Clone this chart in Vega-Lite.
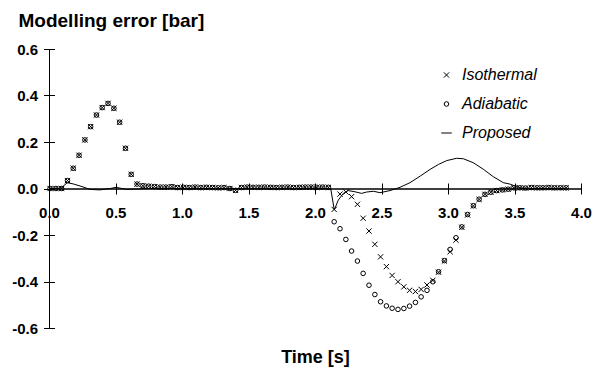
{
  "$schema": "https://vega.github.io/schema/vega-lite/v6.json",
  "width": 532,
  "height": 279,
  "autosize": {"type": "none"},
  "padding": {"left": 49, "top": 49, "right": 16, "bottom": 39},
  "background": "white",
  "config": {
    "view": {"stroke": null},
    "font": "Liberation Sans",
    "axis": {
      "grid": false,
      "domainColor": "black",
      "tickColor": "black",
      "labelColor": "black",
      "titleColor": "black",
      "labelFont": "Liberation Sans",
      "labelFontWeight": "bold",
      "labelFontSize": 15,
      "titleFont": "Liberation Sans",
      "titleFontWeight": "bold",
      "titleFontSize": 18,
      "tickSize": 5.5,
      "domainWidth": 1,
      "tickWidth": 1,
      "labelFlush": false,
      "labelOverlap": false
    }
  },
  "datasets": {
    "pts": [
      {"t": 0.008, "Isothermal": 0, "Adiabatic": 0},
      {"t": 0.052, "Isothermal": 0, "Adiabatic": 0},
      {"t": 0.095, "Isothermal": 0, "Adiabatic": 0},
      {"t": 0.139, "Isothermal": 0.034, "Adiabatic": 0.034},
      {"t": 0.182, "Isothermal": 0.087, "Adiabatic": 0.087},
      {"t": 0.226, "Isothermal": 0.143, "Adiabatic": 0.143},
      {"t": 0.270, "Isothermal": 0.209, "Adiabatic": 0.209},
      {"t": 0.313, "Isothermal": 0.266, "Adiabatic": 0.266},
      {"t": 0.357, "Isothermal": 0.316, "Adiabatic": 0.316},
      {"t": 0.400, "Isothermal": 0.348, "Adiabatic": 0.348},
      {"t": 0.444, "Isothermal": 0.366, "Adiabatic": 0.366},
      {"t": 0.488, "Isothermal": 0.345, "Adiabatic": 0.345},
      {"t": 0.531, "Isothermal": 0.285, "Adiabatic": 0.285},
      {"t": 0.575, "Isothermal": 0.173, "Adiabatic": 0.173},
      {"t": 0.618, "Isothermal": 0.061, "Adiabatic": 0.061},
      {"t": 0.662, "Isothermal": 0.019, "Adiabatic": 0.019},
      {"t": 0.706, "Isothermal": 0.012, "Adiabatic": 0.012},
      {"t": 0.749, "Isothermal": 0.010, "Adiabatic": 0.010},
      {"t": 0.793, "Isothermal": 0.008, "Adiabatic": 0.008},
      {"t": 0.836, "Isothermal": 0.006, "Adiabatic": 0.006},
      {"t": 0.880, "Isothermal": 0.006, "Adiabatic": 0.006},
      {"t": 0.924, "Isothermal": 0.008, "Adiabatic": 0.008},
      {"t": 0.967, "Isothermal": 0.004, "Adiabatic": 0.004},
      {"t": 1.011, "Isothermal": 0.005, "Adiabatic": 0.005},
      {"t": 1.054, "Isothermal": 0.004, "Adiabatic": 0.004},
      {"t": 1.098, "Isothermal": 0.006, "Adiabatic": 0.006},
      {"t": 1.142, "Isothermal": 0.004, "Adiabatic": 0.004},
      {"t": 1.185, "Isothermal": 0.005, "Adiabatic": 0.005},
      {"t": 1.229, "Isothermal": 0.004, "Adiabatic": 0.004},
      {"t": 1.272, "Isothermal": 0.003, "Adiabatic": 0.003},
      {"t": 1.316, "Isothermal": 0.004, "Adiabatic": 0.004},
      {"t": 1.360, "Isothermal": 0.000, "Adiabatic": 0.000},
      {"t": 1.403, "Isothermal": -0.008, "Adiabatic": -0.008},
      {"t": 1.447, "Isothermal": 0.004, "Adiabatic": 0.004},
      {"t": 1.490, "Isothermal": 0.006, "Adiabatic": 0.006},
      {"t": 1.534, "Isothermal": 0.005, "Adiabatic": 0.005},
      {"t": 1.578, "Isothermal": 0.005, "Adiabatic": 0.005},
      {"t": 1.621, "Isothermal": 0.006, "Adiabatic": 0.006},
      {"t": 1.665, "Isothermal": 0.005, "Adiabatic": 0.005},
      {"t": 1.708, "Isothermal": 0.004, "Adiabatic": 0.004},
      {"t": 1.752, "Isothermal": 0.005, "Adiabatic": 0.005},
      {"t": 1.796, "Isothermal": 0.006, "Adiabatic": 0.006},
      {"t": 1.839, "Isothermal": 0.004, "Adiabatic": 0.004},
      {"t": 1.883, "Isothermal": 0.005, "Adiabatic": 0.005},
      {"t": 1.926, "Isothermal": 0.006, "Adiabatic": 0.006},
      {"t": 1.970, "Isothermal": 0.006, "Adiabatic": 0.006},
      {"t": 2.014, "Isothermal": 0.005, "Adiabatic": 0.005},
      {"t": 2.057, "Isothermal": 0.006, "Adiabatic": 0.006},
      {"t": 2.101, "Isothermal": 0.005, "Adiabatic": 0.005},
      {"t": 2.144, "Isothermal": -0.090, "Adiabatic": -0.143},
      {"t": 2.188, "Isothermal": -0.024, "Adiabatic": -0.173},
      {"t": 2.232, "Isothermal": -0.015, "Adiabatic": -0.219},
      {"t": 2.275, "Isothermal": -0.035, "Adiabatic": -0.269},
      {"t": 2.319, "Isothermal": -0.068, "Adiabatic": -0.312},
      {"t": 2.362, "Isothermal": -0.128, "Adiabatic": -0.365},
      {"t": 2.406, "Isothermal": -0.183, "Adiabatic": -0.416},
      {"t": 2.450, "Isothermal": -0.240, "Adiabatic": -0.456},
      {"t": 2.493, "Isothermal": -0.294, "Adiabatic": -0.487},
      {"t": 2.537, "Isothermal": -0.336, "Adiabatic": -0.505},
      {"t": 2.580, "Isothermal": -0.374, "Adiabatic": -0.515},
      {"t": 2.624, "Isothermal": -0.401, "Adiabatic": -0.520},
      {"t": 2.668, "Isothermal": -0.423, "Adiabatic": -0.516},
      {"t": 2.711, "Isothermal": -0.438, "Adiabatic": -0.506},
      {"t": 2.755, "Isothermal": -0.443, "Adiabatic": -0.490},
      {"t": 2.798, "Isothermal": -0.434, "Adiabatic": -0.466},
      {"t": 2.842, "Isothermal": -0.415, "Adiabatic": -0.438},
      {"t": 2.886, "Isothermal": -0.395, "Adiabatic": -0.401},
      {"t": 2.929, "Isothermal": -0.360, "Adiabatic": -0.358},
      {"t": 2.973, "Isothermal": -0.312, "Adiabatic": -0.310},
      {"t": 3.016, "Isothermal": -0.272, "Adiabatic": -0.262},
      {"t": 3.060, "Isothermal": -0.222, "Adiabatic": -0.212},
      {"t": 3.104, "Isothermal": -0.167, "Adiabatic": -0.165},
      {"t": 3.147, "Isothermal": -0.114, "Adiabatic": -0.112},
      {"t": 3.191, "Isothermal": -0.075, "Adiabatic": -0.074},
      {"t": 3.234, "Isothermal": -0.047, "Adiabatic": -0.046},
      {"t": 3.278, "Isothermal": -0.025, "Adiabatic": -0.025},
      {"t": 3.322, "Isothermal": -0.016, "Adiabatic": -0.016},
      {"t": 3.365, "Isothermal": -0.009, "Adiabatic": -0.009},
      {"t": 3.409, "Isothermal": -0.006, "Adiabatic": -0.006},
      {"t": 3.452, "Isothermal": -0.003, "Adiabatic": -0.003},
      {"t": 3.496, "Isothermal": 0.003, "Adiabatic": 0.003},
      {"t": 3.540, "Isothermal": 0.003, "Adiabatic": 0.003},
      {"t": 3.583, "Isothermal": 0.002, "Adiabatic": 0.002},
      {"t": 3.627, "Isothermal": 0.004, "Adiabatic": 0.004},
      {"t": 3.670, "Isothermal": 0.003, "Adiabatic": 0.003},
      {"t": 3.714, "Isothermal": 0.003, "Adiabatic": 0.003},
      {"t": 3.758, "Isothermal": 0.004, "Adiabatic": 0.004},
      {"t": 3.801, "Isothermal": 0.003, "Adiabatic": 0.003},
      {"t": 3.845, "Isothermal": 0.003, "Adiabatic": 0.003},
      {"t": 3.888, "Isothermal": 0.003, "Adiabatic": 0.003}
    ],
    "prop": [
      {"t": 0.0, "v": 0.0},
      {"t": 0.08, "v": 0.0},
      {"t": 0.11, "v": 0.012},
      {"t": 0.138, "v": 0.025},
      {"t": 0.18, "v": 0.02},
      {"t": 0.233, "v": 0.011},
      {"t": 0.31, "v": -0.004},
      {"t": 0.383, "v": -0.006},
      {"t": 0.46, "v": 0.0},
      {"t": 0.504, "v": 0.005},
      {"t": 0.584, "v": -0.004},
      {"t": 0.66, "v": -0.002},
      {"t": 0.75, "v": 0.0},
      {"t": 2.118, "v": 0.0},
      {"t": 2.145, "v": -0.092},
      {"t": 2.175, "v": -0.05},
      {"t": 2.213, "v": -0.021},
      {"t": 2.25, "v": -0.009},
      {"t": 2.3, "v": -0.014},
      {"t": 2.35, "v": -0.021},
      {"t": 2.39, "v": -0.015},
      {"t": 2.44, "v": -0.012},
      {"t": 2.489, "v": -0.018},
      {"t": 2.564, "v": -0.009},
      {"t": 2.639, "v": 0.005},
      {"t": 2.714, "v": 0.025},
      {"t": 2.79, "v": 0.053},
      {"t": 2.865, "v": 0.082},
      {"t": 2.93, "v": 0.104},
      {"t": 2.99, "v": 0.12},
      {"t": 3.065, "v": 0.13},
      {"t": 3.115, "v": 0.128},
      {"t": 3.19, "v": 0.111},
      {"t": 3.265, "v": 0.083},
      {"t": 3.34, "v": 0.051},
      {"t": 3.416, "v": 0.025},
      {"t": 3.466, "v": 0.019},
      {"t": 3.516, "v": 0.008},
      {"t": 3.566, "v": 0.0},
      {"t": 3.88, "v": 0.0}
    ]
  },
  "layer": [
    {
      "data": {"name": "pts"},
      "transform": [{"fold": ["Isothermal", "Adiabatic"], "as": ["series", "v"]}],
      "mark": {"type": "point", "filled": false, "color": "black", "strokeWidth": 1, "opacity": 1},
      "encoding": {
        "x": {
          "field": "t", "type": "quantitative",
          "scale": {"domain": [0, 4], "nice": false, "zero": false},
          "axis": {
            "orient": "bottom", "offset": -139.5,
            "values": [0, 0.5, 1, 1.5, 2, 2.5, 3, 3.5, 4],
            "format": ".1f", "labelPadding": 11,
            "title": "Time [s]", "titleY": 168.5, "titleBaseline": "middle"
          }
        },
        "y": {
          "field": "v", "type": "quantitative",
          "scale": {"domain": [-0.6, 0.6], "nice": false, "zero": false},
          "axis": {
            "orient": "left",
            "values": [-0.6, -0.4, -0.2, 0, 0.2, 0.4, 0.6],
            "labelExpr": "datum.value < 0 ? '-' + format(-datum.value, '.1f') : format(datum.value, '.1f')",
            "labelPadding": 6,
            "title": "Modelling error [bar]", "titleAngle": 0, "titleFontSize": 19,
            "titleX": -31, "titleY": -23, "titleAlign": "left", "titleBaseline": "alphabetic"
          }
        },
        "shape": {
          "field": "series", "type": "nominal",
          "scale": {"domain": ["Isothermal", "Adiabatic", "Proposed"], "range": ["M-1,-1L1,1M-1,1L1,-1", "circle", "M-2.8,0L2.8,0"]},
          "legend": {
            "title": null, "orient": "none", "legendX": 389.5, "legendY": 18,
            "labelFont": "Liberation Sans", "labelFontSize": 16, "labelFontStyle": "italic", "labelColor": "black",
            "symbolStrokeColor": "black", "symbolFillColor": "transparent", "symbolStrokeWidth": 1,
            "labelOffset": 7.5, "rowPadding": 13, "padding": 0
          }
        },
        "size": {
          "field": "series", "type": "nominal",
          "scale": {"domain": ["Isothermal", "Adiabatic", "Proposed"], "range": [28, 14, 28]},
          "legend": {
            "title": null, "orient": "none", "legendX": 389.5, "legendY": 18,
            "labelFont": "Liberation Sans", "labelFontSize": 16, "labelFontStyle": "italic", "labelColor": "black",
            "symbolStrokeColor": "black", "symbolFillColor": "transparent", "symbolStrokeWidth": 1,
            "labelOffset": 7.5, "rowPadding": 13, "padding": 0
          }
        }
      }
    },
    {
      "data": {"name": "prop"},
      "mark": {"type": "line", "color": "black", "strokeWidth": 1},
      "encoding": {
        "x": {
          "field": "t", "type": "quantitative",
          "scale": {"domain": [0, 4], "nice": false, "zero": false},
          "axis": {"orient": "top", "offset": -139.5, "values": [0, 0.5, 1, 1.5, 2, 2.5, 3, 3.5, 4], "labels": false, "title": null}
        },
        "y": {
          "field": "v", "type": "quantitative",
          "scale": {"domain": [-0.6, 0.6], "nice": false, "zero": false},
          "axis": {"orient": "right", "offset": -532, "values": [-0.6, -0.4, -0.2, 0, 0.2, 0.4, 0.6], "labels": false, "title": null}
        }
      }
    }
  ],
  "resolve": {
    "scale": {"x": "independent", "y": "independent"},
    "axis": {"x": "independent", "y": "independent"}
  }
}
